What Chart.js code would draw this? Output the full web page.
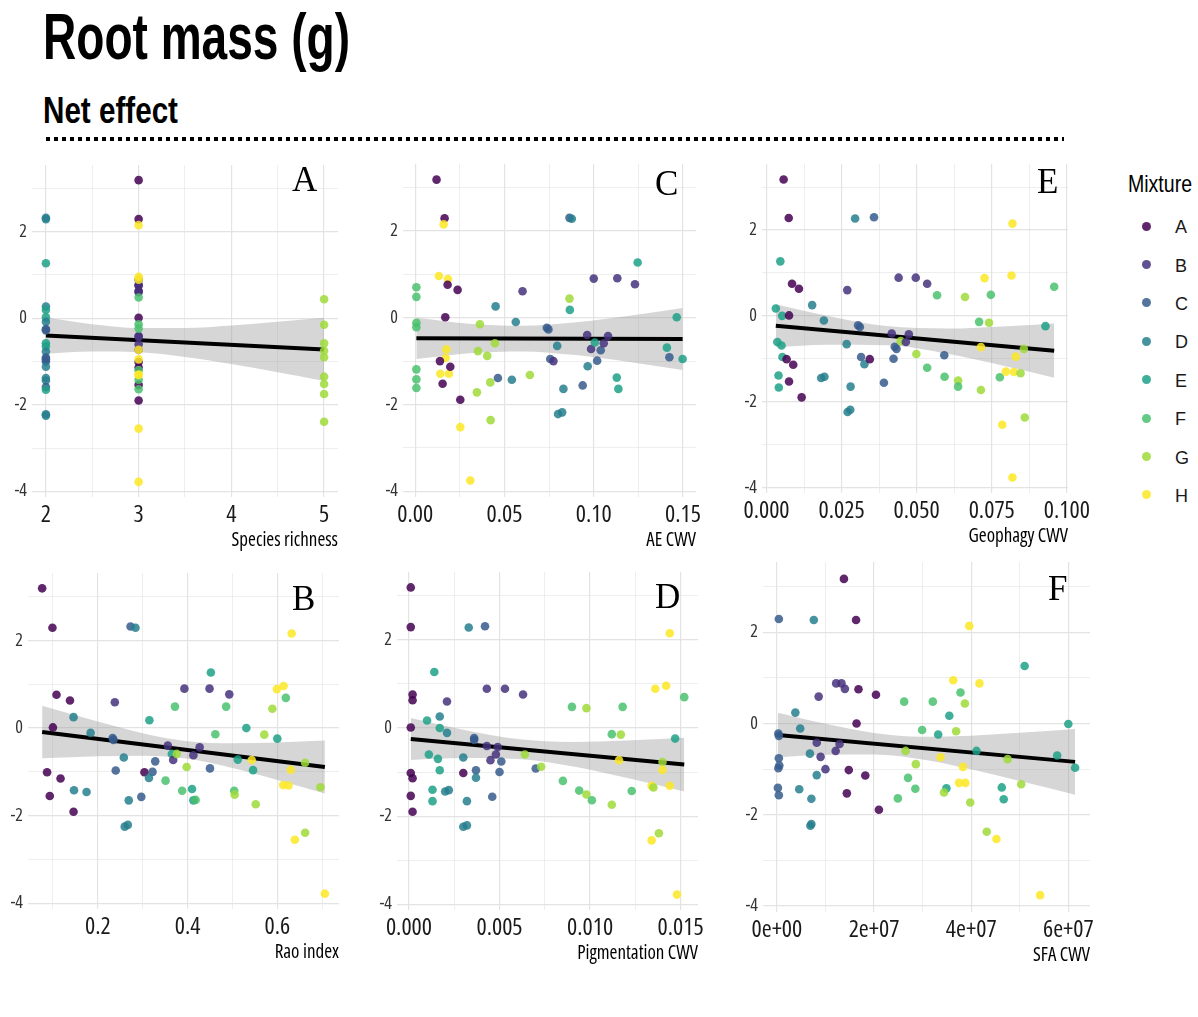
<!DOCTYPE html>
<html><head><meta charset="utf-8">
<script src="https://cdn.jsdelivr.net/npm/chart.js@4/dist/chart.umd.min.js"></script>
<style>
html,body{margin:0;padding:0;background:#fff;}
body{width:1198px;height:1017px;position:relative;overflow:hidden;font-family:'Liberation Sans Narrow','Liberation Sans',Arial,sans-serif;color:#000;}
.t{position:absolute;white-space:nowrap;line-height:1;transform-origin:0 0;}
#dots{position:absolute;left:46px;top:137px;width:1018px;height:4px;background:repeating-linear-gradient(to right,#000 0 4px,transparent 4px 8px);}
.ld{position:absolute;width:9px;height:9px;border-radius:50%;}
</style></head><body>
<div id="dots"></div>
<script>
// ---------- shared ----------
const mixtures = ['A','B','C','D','E','F','G','H'];
const mixtureColors = ['#440154','#46337E','#365C8D','#277F8E','#1FA187','#4AC16D','#9FDA3A','#FDE725'];
const yTickVals = [-4,-3,-2,-1,0,1,2,3];
const yTickLabels = ['-4','','-2','','0','','2',''];

// ---------- Panel A : Species richness ----------
const aX = [2,2,2,2,2,2,2,2,2,2,2,2,2,2,2,2,2,2,2,2,2,2,
  3,3,3,3,3,3,3,3,3, 3,3,3,3,3,3,3, 3,3,3,3,3,3, 3,3,3,3,3,3,3,3,3,
  5,5,5,5,5,5,5,5,5];
const aY = [2.32,2.29,1.27,0.27,0.19,0.02,-0.08,-0.25,-0.28,-0.58,-0.65,-0.77,-0.91,-0.95,-1.0,-1.12,-1.38,-1.44,-1.59,-1.65,-2.22,-2.25,
  3.19,2.29,0.76,0.63,0.01,-1.01,-1.14,-1.54,-1.90,
  0.89,0.76,0.60,-0.41,-0.43,-0.60,-0.73,
  0.48,-0.14,-0.24,-1.20,-1.42,-1.64,
  2.15,0.96,0.89,-0.73,-0.95,-1.30,-1.31,-2.55,-3.78,
  0.44,-0.15,-0.58,-0.75,-0.90,-1.35,-1.52,-1.75,-2.39];
const aMix = "DDEDEEDCCEEDCCCDDDCEDD"+"AAAAAAAAA"+"BBBBBBB"+"FFFFFF"+"HHHHHHHHH"+"GGGGGGGGG";
const aTickVals = [2,2.5,3,3.5,4,4.5,5];
const aTickLabels = ['2','','3','','4','','5'];
const aFitX = [2,5], aFitY = [-0.40,-0.72];
const aBandX = [2,2.5,3,3.5,4,4.5,5];
const aBandHi = [0.02,-0.137,-0.227,-0.227,-0.168,-0.084,0.01];
const aBandLo = [-0.82,-0.769,-0.787,-0.893,-1.058,-1.25,-1.45];

// ---------- Panel B : Rao index ----------
const bX = [0.076,0.099,0.108,0.138,0.100,0.087,0.093,0.117,0.146,0.146,0.184,0.147,0.175,0.233,0.235,0.238,0.240,0.258,0.273,0.284,0.269,0.260,0.267,0.297,0.304,0.322,0.314,0.315,0.328,0.351,0.356,0.365,0.368,0.376,0.372,0.393,0.398,0.388,0.410,0.413,0.418,0.413,0.427,0.449,0.452,0.450,0.462,0.486,0.493,0.504,0.505,0.512,0.531,0.543,0.546,0.552,0.571,0.589,0.599,0.614,0.619,0.600,0.632,0.613,0.625,0.630,0.639,0.662,0.662,0.696,0.706];
const bY = [3.19,2.29,0.76,0.63,0.015,-1.01,-1.55,-1.15,-1.91,0.25,-0.11,-1.42,-1.46,-0.23,-0.27,0.59,-0.97,-0.67,2.32,2.29,-1.65,-2.25,-2.21,-1.57,-1.01,-1.0,-1.14,0.18,-0.76,-1.2,-0.40,-0.59,-0.73,-0.59,0.49,0.90,-0.89,-1.43,-1.39,-1.65,-1.64,-0.62,-0.44,0.90,1.27,-0.92,-0.14,0.49,0.77,-1.43,-1.52,-0.72,0.0,-0.73,-0.96,-1.74,-0.15,0.44,0.89,0.96,0.69,-0.24,2.16,-1.30,-1.31,-0.95,-2.55,-0.79,-2.39,-1.35,-3.78];
const bMix = "AAAAAAAAA"+"DDDD"+"CCBCDCDDDDCACDECF"+"BEBGFBGFEEFBBBECFFBF"+"GEEHEGGGHHFEHHHHHGGGH";
const bTickVals = [0.1,0.2,0.3,0.4,0.5,0.6,0.7];
const bTickLabels = ['','0.2','','0.4','','0.6',''];
const bFitX = [0.076,0.706], bFitY = [-0.09,-0.89];
const bBandX = [0.076,0.2,0.3,0.4,0.5,0.6,0.706];
const bBandHi = [0.51,0.15,-0.116,-0.30,-0.346,-0.327,-0.286];
const bBandLo = [-0.69,-0.644,-0.632,-0.702,-0.91,-1.183,-1.494];

// ---------- Panel C : AE CWV ----------
const cX = [0.0119,0.0164,0.0159,0.0132,0.0183,0.0181,0.0237,0.0006,0.0006,0.0006,0.0006,0.0006,0.0006,0.0006,0.0168,0.0174,0.017,0.0138,0.014,0.0188,0.0196,0.0153,0.0252,0.0252,0.0308,0.0362,0.0351,0.0403,0.0446,0.0345,0.042,0.0422,0.045,0.0463,0.0541,0.0563,0.0601,0.0642,0.0737,0.0746,0.0756,0.0774,0.0795,0.08,0.0823,0.083,0.0864,0.0877,0.0864,0.0866,0.0938,0.0966,0.0963,0.0985,0.1,0.1006,0.1019,0.1039,0.1056,0.108,0.1132,0.1129,0.1138,0.1231,0.1246,0.141,0.1424,0.1465,0.1498];
const cY = [3.18,2.29,2.15,0.96,0.89,0.76,0.64,0.70,0.48,-0.12,-0.22,-1.19,-1.42,-1.62,0.01,-0.73,-0.93,-1.0,-1.29,-1.29,-1.13,-1.52,-1.89,-2.52,-3.75,-0.15,-0.77,-0.88,-0.59,-1.72,-1.49,-2.36,0.26,-1.39,-1.43,-0.10,0.61,-1.32,-0.23,-0.27,-0.95,-1.0,-0.65,-2.22,-2.18,-1.64,2.30,2.28,0.44,0.18,-1.56,-1.12,-0.40,-0.72,0.90,-0.57,-0.99,-0.75,-0.59,-0.42,0.91,-1.38,-1.64,0.77,1.27,-0.69,-0.91,0.01,-0.95];
const cMix = "AAHHHAAFFF"+"FFFFAHHAHH"+"AAAHHGGGGG"+"GGDCDDBGCC"+"CBDDDDCDGE"+"CDBBBECCBB"+"BEEBEECEE";
const cTickVals = [0,0.025,0.05,0.075,0.1,0.125,0.15];
const cTickLabels = ['0.00','','0.05','','0.10','','0.15'];
const cFitX = [0.0006,0.1498], cFitY = [-0.475,-0.49];
const cBandX = [0.0006,0.03,0.06,0.09,0.12,0.1498];
const cBandHi = [0.0,-0.139,-0.186,-0.106,0.047,0.226];
const cBandLo = [-0.95,-0.817,-0.776,-0.862,-1.021,-1.206];

// ---------- Panel D : Pigmentation CWV ----------
const dX = [0.0001,0.0001,0.0002,0.0002,0.0001,0.0001,0.0002,0.0001,0.0002,0.001,0.0014,0.0017,0.0017,0.0011,0.0016,0.0017,0.0013,0.0013,0.0021,0.0021,0.002,0.0022,0.003,0.003,0.0032,0.003,0.0032,0.0033,0.0042,0.0036,0.0036,0.0037,0.0037,0.0043,0.0043,0.0045,0.0048,0.0049,0.005,0.0051,0.0046,0.0053,0.0063,0.0064,0.007,0.0073,0.0085,0.009,0.0094,0.0098,0.0098,0.0101,0.0112,0.0112,0.0116,0.0117,0.0118,0.0123,0.0134,0.0134,0.0135,0.0136,0.0138,0.014,0.014,0.0142,0.0144,0.0144,0.0147,0.0148,0.0152];
const dY = [3.19,2.29,0.76,0.63,0.01,-1.02,-1.14,-1.54,-1.90,0.17,1.27,0.26,0.0,-0.60,-0.70,-0.96,-1.40,-1.66,0.60,-0.11,-1.44,-1.41,-0.67,-1.02,-1.66,-2.24,-2.21,2.28,2.31,-0.23,-0.27,-0.96,-1.13,0.89,-0.41,-0.73,-0.60,-0.43,-1.0,-0.76,-1.56,0.89,0.76,-0.60,-0.92,-0.88,-1.20,0.48,-1.42,0.45,-1.51,-1.64,-0.14,-1.74,-0.73,-0.15,0.48,-1.43,-2.55,-1.31,-1.35,0.89,-2.39,-0.77,-0.95,0.96,-1.31,2.15,-0.24,-3.78,0.70];
const dMix = "AAAAAAAAAE"+"EDEEEEEEBD"+"DDDADDDDCC"+"CCDBBBBBCC"+"CBBGCGFFFG"+"GFFGHGFFHH"+"GHGGHHHHEHF";
const dTickVals = [0,0.0025,0.005,0.0075,0.01,0.0125,0.015];
const dTickLabels = ['0.000','','0.005','','0.010','','0.015'];
const dFitX = [0.0001,0.0152], dFitY = [-0.25,-0.83];
const dBandX = [0.0001,0.003,0.006,0.009,0.012,0.0152];
const dBandHi = [0.225,-0.041,-0.251,-0.315,-0.283,-0.22];
const dBandLo = [-0.725,-0.681,-0.703,-0.869,-1.131,-1.44];

// ---------- Panel E : Geophagy CWV ----------
const eX = [0.0057,0.0074,0.0046,0.0085,0.0108,0.0031,0.0052,0.0075,0.0036,0.005,0.0053,0.0067,0.0089,0.004,0.0075,0.0041,0.0117,0.0152,0.0191,0.0182,0.0193,0.0269,0.0267,0.028,0.027,0.0279,0.0295,0.0358,0.0305,0.0311,0.0315,0.0326,0.0344,0.0391,0.0417,0.0423,0.0427,0.0433,0.044,0.0447,0.0464,0.0474,0.0497,0.0499,0.0535,0.0535,0.0568,0.0592,0.0593,0.0638,0.0638,0.0661,0.0708,0.0714,0.0714,0.0726,0.0741,0.0747,0.0777,0.0785,0.0797,0.0816,0.0819,0.0819,0.0824,0.083,0.0846,0.0857,0.086,0.0929,0.0958];
const eY = [3.18,2.28,1.27,0.75,0.63,0.17,0.0,0.01,-0.61,-0.69,-0.96,-1.01,-1.14,-1.39,-1.53,-1.67,-1.90,0.25,-0.11,-1.45,-1.42,0.60,-0.66,-1.65,-2.24,-2.19,2.27,2.30,-0.22,-0.26,-0.96,-1.13,-1.01,-1.56,-0.41,-1.0,-0.72,-0.77,0.89,-0.59,-0.61,-0.43,0.89,-0.89,0.75,-1.21,0.48,-0.92,-1.42,-1.51,-1.65,0.44,-0.14,-1.73,-0.73,0.88,-0.16,0.49,-1.43,-2.54,-1.30,0.94,2.15,-3.77,-1.31,-0.95,-1.34,-0.77,-2.37,-0.24,0.68];
const eMix = "AAEAAEEAEE"+"EAAEAEADDD"+"DBDDDDDCCC"+"CDACBCCCBG"+"BBBGBFFCFG"+"FGFGHHGFFH"+"HHHHHHGGGEF";
const eTickVals = [0,0.0125,0.025,0.0375,0.05,0.0625,0.075,0.0875,0.1];
const eTickLabels = ['0.000','','0.025','','0.050','','0.075','','0.100'];
const eFitX = [0.0031,0.0958], eFitY = [-0.23,-0.811];
const eBandX = [0.0031,0.02,0.04,0.06,0.08,0.0958];
const eBandHi = [0.27,0.003,-0.239,-0.295,-0.24,-0.177];
const eBandLo = [-0.73,-0.675,-0.683,-0.877,-1.182,-1.445];

// ---------- Panel F : SFA CWV ----------
const fX = [1.38e7,1.63e7,0.04e7,0.76e7,1.68e7,2.04e7,1.22e7,1.33e7,1.40e7,0.86e7,0.38e7,0.48e7,1.64e7,0.03e7,0.04e7,0.82e7,1.29e7,1.21e7,0.68e7,0.90e7,0.04e7,0.05e7,0.03e7,1.00e7,1.48e7,0.82e7,1.82e7,0.02e7,0.04e7,0.46e7,0.71e7,0.69e7,0.71e7,1.44e7,2.10e7,2.62e7,3.21e7,3.55e7,2.99e7,3.32e7,2.65e7,2.86e7,2.70e7,2.85e7,2.49e7,3.37e7,3.49e7,3.44e7,3.63e7,3.78e7,3.87e7,3.69e7,3.96e7,3.83e7,3.75e7,3.88e7,3.98e7,4.17e7,4.11e7,4.32e7,4.52e7,4.75e7,4.63e7,4.67e7,5.03e7,5.10e7,5.42e7,5.77e7,6.00e7,6.14e7];
const fY = [3.17,2.27,2.29,2.27,0.75,0.63,0.88,0.88,0.76,0.59,0.24,-0.11,0.0,-0.22,-0.27,-0.42,-0.45,-0.60,-0.66,-0.73,-0.76,-0.92,-0.98,-1.0,-1.02,-1.13,-1.14,-1.41,-1.57,-1.44,-1.65,-2.24,-2.20,-1.53,-1.89,0.48,0.48,0.17,-0.14,-0.24,-0.60,-0.89,-1.19,-1.43,-1.64,-0.74,-1.42,-1.51,0.95,0.68,0.44,-0.17,2.14,-0.95,-1.30,-1.30,-1.73,0.88,-0.60,-2.37,-2.53,-0.78,-1.40,-1.66,-1.33,1.26,-3.76,-0.70,-0.01,-0.97];
const fMix = "AACDAABBBB"+"DDACCBBBDB"+"CCCBADACCD"+"DDDAAFFEFE"+"GGFFFHEGHF"+"GGHHHHGHEG"+"HGEEGEHEEE";
const fTickVals = [0,1e7,2e7,3e7,4e7,5e7,6e7];
const fTickLabels = ['0e+00','','2e+07','','4e+07','','6e+07'];
const fFitX = [0.02e7,6.14e7], fFitY = [-0.252,-0.84];
const fBandX = [0.02e7,1e7,2e7,3e7,4e7,5e7,6.14e7];
const fBandHi = [0.238,-0.006,-0.207,-0.289,-0.265,-0.204,-0.12];
const fBandLo = [-0.742,-0.686,-0.677,-0.787,-1.003,-1.258,-1.56];

// ---------- layout (page pixels) ----------
const panels = [
  {letter:'A', title:'Species richness', xs:aX, ys:aY, mix:aMix, tv:aTickVals, tl:aTickLabels, fx:aFitX, fy:aFitY, bx:aBandX, bh:aBandHi, bl:aBandLo, xr:[1.85,5.15], rect:[32,165,338,497], lp:[292,191]},
  {letter:'C', title:'AE CWV', xs:cX, ys:cY, mix:cMix, tv:cTickVals, tl:cTickLabels, fx:cFitX, fy:cFitY, bx:cBandX, bh:cBandHi, bl:cBandLo, xr:[-0.0069,0.1573], rect:[403,164,696,497], lp:[655,195]},
  {letter:'E', title:'Geophagy CWV', xs:eX, ys:eY, mix:eMix, tv:eTickVals, tl:eTickLabels, fx:eFitX, fy:eFitY, bx:eBandX, bh:eBandHi, bl:eBandLo, xr:[-0.0015,0.1004], rect:[762,164,1068,493], lp:[1037,193]},
  {letter:'B', title:'Rao index', xs:bX, ys:bY, mix:bMix, tv:bTickVals, tl:bTickLabels, fx:bFitX, fy:bFitY, bx:bBandX, bh:bBandHi, bl:bBandLo, xr:[0.0445,0.7375], rect:[28,573,339,909], lp:[292,610]},
  {letter:'D', title:'Pigmentation CWV', xs:dX, ys:dY, mix:dMix, tv:dTickVals, tl:dTickLabels, fx:dFitX, fy:dFitY, bx:dBandX, bh:dBandHi, bl:dBandLo, xr:[-0.00066,0.01596], rect:[397,572,698,910], lp:[655,608]},
  {letter:'F', title:'SFA CWV', xs:fX, ys:fY, mix:fMix, tv:fTickVals, tl:fTickLabels, fx:fFitX, fy:fFitY, bx:fBandX, bh:fBandHi, bl:fBandLo, xr:[-0.286e7,6.446e7], rect:[763,562,1090,912], lp:[1048,600]}
];

function colorOf(m){ const c = mixtureColors[mixtures.indexOf(m)]; return c + 'D9'; }

// pick the available sans face whose width is closest to a narrow grotesque
function pickNarrow(){
  const c = document.createElement('canvas').getContext('2d');
  const probe = 'Species richness 0.100';
  c.font = "100px 'Liberation Sans'";
  const base = c.measureText(probe).width;
  const fams = ["'Liberation Sans Narrow'","'Arial Narrow'","'Nimbus Sans Narrow'","'Roboto Condensed'","'Noto Sans Condensed'","'Noto Sans'","'Open Sans'","Roboto","'DejaVu Sans Condensed'"];
  const stretches = ['', 'semi-condensed ', 'condensed ', 'extra-condensed '];
  let best = null;
  for (const fam of fams){
    for (const st of stretches){
      c.font = st + "100px " + fam + ", 'Liberation Sans'";
      const w = c.measureText(probe).width / base;
      if (w < 0.95){
        const score = Math.abs(w - 0.80);
        if (!best || score < best.score - 0.005) best = {family: fam + ",'Liberation Sans',sans-serif", weight: st ? st.trim() : 'normal', ratio: w, score};
      }
    }
  }
  return best || {family:"'Liberation Sans',sans-serif", weight:'normal', ratio:1};
}

function addText(txt, left, baseline, size, weight, width, extra){
  const d = document.createElement('div');
  d.className = 't';
  d.textContent = txt;
  d.style.fontSize = size + 'px';
  d.style.fontWeight = weight;
  d.style.left = left + 'px';
  d.style.top = (baseline - 0.8465*size) + 'px';
  if (extra) Object.assign(d.style, extra);
  document.body.appendChild(d);
  if (width) { const w = d.getBoundingClientRect().width; d.style.transform = 'scaleX(' + (width/w) + ')'; }
  return d;
}

function build(){
  addText('Root mass (g)', 43, 59, 64, 'bold', 307);
  addText('Net effect', 43, 123, 37, 'bold', 135);
  addText('Mixture', 1128, 192, 24, 'normal', 64);
  mixtures.forEach((m,i)=>{
    const cy = 226 + i*38.4;
    const dot = document.createElement('div');
    dot.className = 'ld';
    dot.style.left = (1146-4.5)+'px'; dot.style.top = (cy-4.5)+'px';
    dot.style.background = colorOf(m);
    document.body.appendChild(dot);
    addText(m, 1175, cy+7.5, 18, 'normal', 0, {color:'#1a1a1a'});
  });

  const NF = pickNarrow();
  const k = Math.min(1, 0.80 / NF.ratio);
  const sx = Math.max(18, 24*k);
  const sy = Math.max(15, 18*k);
  const st = Math.max(15, 19*k);
  const fnt = s => ({family: NF.family, size: s, weight: NF.weight});

  const YW = 60, PT = 20, PR = 45, XH = 70;
  panels.forEach(p=>{
    const L = p.rect[0], T = p.rect[1];
    const pw = p.rect[2]-p.rect[0], ph = p.rect[3]-p.rect[1];
    const W = pw + YW + PR, H = ph + PT + XH;
    const cv = document.createElement('canvas');
    cv.width = W; cv.height = H;
    cv.style.cssText = `position:absolute;left:${L-YW}px;top:${T-PT}px;width:${W}px;height:${H}px`;
    document.body.appendChild(cv);
    const pts = p.xs.map((x,i)=>({x:x, y:p.ys[i]}));
    const cols = p.mix.split('').map(colorOf);
    const fit = p.fx.map((x,i)=>({x:x, y:p.fy[i]}));
    const hi = p.bx.map((x,i)=>({x:x, y:p.bh[i]}));
    const lo = p.bx.map((x,i)=>({x:x, y:p.bl[i]}));
    const letterPlugin = {id:'letter', afterDraw(chart){
      const c = chart.ctx; c.save();
      c.font = "35px 'Liberation Serif','Times New Roman',serif";
      c.fillStyle = '#000'; c.textBaseline = 'alphabetic'; c.textAlign = 'left';
      c.fillText(p.letter, p.lp[0]-(L-YW), p.lp[1]-(T-PT));
      c.restore();
    }};
    const titleLH = st*1.2;
    new Chart(cv, {
      type: 'scatter',
      data: { datasets: [
        {data: pts, pointRadius: 4.3, pointHoverRadius: 4.3, pointBackgroundColor: cols, pointBorderWidth: 0, borderColor:'transparent', order: 0},
        {data: fit, showLine: true, borderColor: '#000', borderWidth: 4, pointRadius: 0, order: 1},
        {data: hi, showLine: true, borderColor: 'transparent', borderWidth: 0, pointRadius: 0, fill: '+1', backgroundColor: 'rgba(153,153,153,0.4)', cubicInterpolationMode: 'monotone', order: 2},
        {data: lo, showLine: true, borderColor: 'transparent', borderWidth: 0, pointRadius: 0, fill: false, cubicInterpolationMode: 'monotone', order: 3}
      ]},
      options: {
        responsive: false, animation: false, devicePixelRatio: 1,
        layout: {padding: {left: 0, top: PT, right: PR, bottom: 0}},
        plugins: {legend: {display: false}, tooltip: {enabled: false}},
        scales: {
          x: {type: 'linear', min: p.xr[0], max: p.xr[1],
            afterBuildTicks: s => { s.ticks = p.tv.map(v=>({value:v})); },
            afterFit: s => { s.height = XH; },
            ticks: {autoSkip: false, maxRotation: 0, padding: 4, color: '#1a1a1a',
              font: fnt(sx), callback: (v,i) => p.tl[i]},
            grid: {drawTicks: false, color: '#e3e3e3', lineWidth: c => (p.tl[c.index] ? 1.2 : 0.6)},
            border: {display: false},
            title: {display: true, text: p.title, align: 'end', color: '#000',
              font: fnt(st), padding: {top: 0, bottom: 20 - titleLH/2 + 0.3465*st}}
          },
          y: {type: 'linear', min: -4.13, max: 3.54,
            afterBuildTicks: s => { s.ticks = yTickVals.map(v=>({value:v})); },
            afterFit: s => { s.width = YW; },
            ticks: {autoSkip: false, padding: 5, color: '#333',
              font: fnt(sy), callback: (v,i) => yTickLabels[i]},
            grid: {drawTicks: false, color: '#e3e3e3', lineWidth: c => (yTickLabels[c.index] ? 1.2 : 0.6)},
            border: {display: false}
          }
        }
      },
      plugins: [letterPlugin]
    });
  });
}

const fontLoads = ["18px 'Liberation Sans Narrow'", "bold 18px 'Liberation Sans Narrow'", "35px 'Liberation Serif'", "18px 'Liberation Sans'", "condensed 18px 'Noto Sans'", "extra-condensed 18px 'Noto Sans'", "condensed 18px 'Open Sans'", "18px 'Roboto Condensed'"]
  .map(f => document.fonts.load(f).catch(()=>null));
Promise.all(fontLoads).then(build, build);
</script>
</body></html>
